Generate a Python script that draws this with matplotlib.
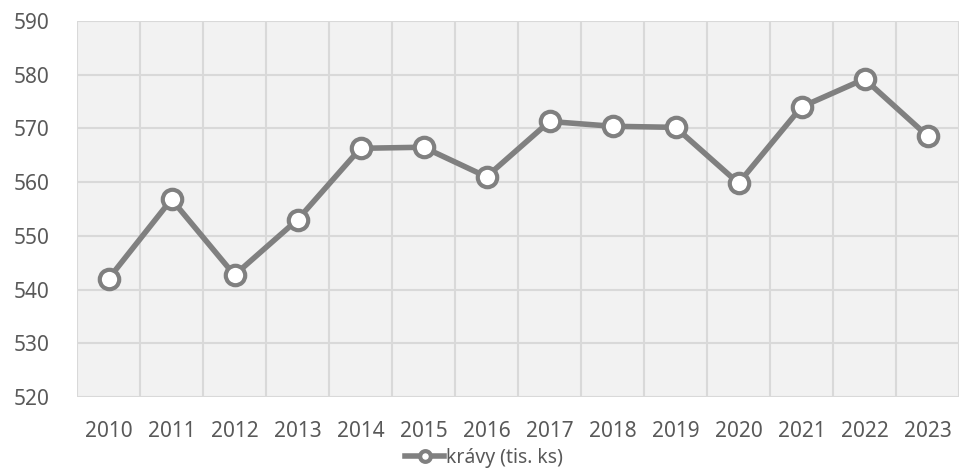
import matplotlib.pyplot as plt
import numpy as np
from matplotlib.ticker import FixedLocator

years = ['2010', '2011', '2012', '2013', '2014', '2015', '2016',
         '2017', '2018', '2019', '2020', '2021', '2022', '2023']
cows = [542.0, 556.8, 542.7, 553.0, 566.3, 566.5, 561.0,
        571.3, 570.4, 570.2, 559.8, 574.0, 579.2, 568.6]
series_name = 'krávy (tis. ks)'
y_ticks = [520, 530, 540, 550, 560, 570, 580, 590]

plt.rcParams['font.family'] = ['Noto Sans', 'DejaVu Sans']
text_color = '#595959'

fig = plt.figure(figsize=(9.59, 4.71), dpi=100)
ax = fig.add_axes([77 / 959, 1 - 397 / 471, 1 - 77 / 959, (397 - 21) / 471])
ax.set_facecolor('#f2f2f2')

x = np.arange(len(years))
ax.plot(x, cows, color='#808080', linewidth=4, marker='o', markersize=14,
        markerfacecolor='white', markeredgecolor='#808080', markeredgewidth=3,
        label=series_name, zorder=3, clip_on=False)

ax.set_xlim(-0.5, len(years) - 0.5)
ax.set_ylim(520, 590)
ax.set_yticks(y_ticks)
ax.set_xticks(x)
ax.set_xticklabels(years)
ax.xaxis.set_minor_locator(FixedLocator(np.arange(-0.5, len(years), 1)))

ax.grid(True, axis='y', which='major', color='#d9d9d9', linewidth=1.5)
ax.grid(True, axis='x', which='minor', color='#d9d9d9', linewidth=1.5)
ax.set_axisbelow(True)

for s in ax.spines.values():
    s.set_visible(False)
ax.tick_params(which='both', length=0)
ax.tick_params(axis='y', labelsize=15, labelcolor=text_color, pad=20)
ax.tick_params(axis='x', labelsize=15, labelcolor=text_color, pad=17)

leg = fig.legend(loc='lower center', bbox_to_anchor=(0.505, -0.03), frameon=False,
                 fontsize=14, handlelength=2.0, handletextpad=0.1, markerscale=0.55)
for t in leg.get_texts():
    t.set_color(text_color)

fig.savefig('out.png', dpi=100)
